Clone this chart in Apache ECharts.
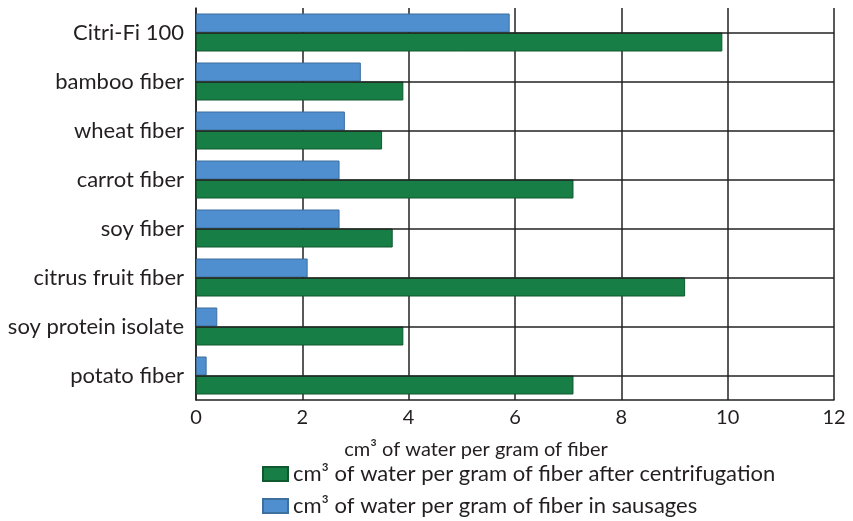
<!DOCTYPE html>
<html>
<head>
<meta charset="utf-8">
<script src="https://cdn.jsdelivr.net/npm/echarts@6/dist/echarts.min.js"></script>
<style>
  html, body { margin: 0; padding: 0; background: #fff; }
  #chart { width: 853px; height: 521px; }
</style>
</head>
<body>
<div id="chart"></div>
<script>
// categories top -> bottom
const fibers = ['Citri-Fi 100', 'bamboo fiber', 'wheat fiber', 'carrot fiber', 'soy fiber', 'citrus fruit fiber', 'soy protein isolate', 'potato fiber']
// cm3 of water per gram of fiber
const inSausages = [5.9, 3.1, 2.8, 2.7, 2.7, 2.1, 0.4, 0.2]
const afterCentrifugation = [9.9, 3.9, 3.5, 7.1, 3.7, 9.2, 3.9, 7.1]
const xTicks = [0, 2, 4, 6, 8, 10, 12]

const nameCentr = 'cm³ of water per gram of fiber after centrifugation'
const nameSaus = 'cm³ of water per gram of fiber in sausages'

const font = 'Lato'
const ink = '#231f20'
const gridLine = { color: '#222', width: 1.5 }

const legendBase = {
  orient: 'vertical',
  left: 257,
  icon: 'rect',
  itemWidth: 25,
  itemHeight: 14,
  textStyle: { fontFamily: font, fontSize: 22, color: ink }
}

const chart = echarts.init(document.getElementById('chart'))

chart.setOption({
  animation: false,
  textStyle: { fontFamily: font, color: ink },
  grid: { left: 196, right: 19, top: 8, bottom: 121, containLabel: false },
  legend: [
    Object.assign({}, legendBase, { top: 458, data: [nameCentr] }),
    Object.assign({}, legendBase, { top: 490, data: [nameSaus] })
  ],
  xAxis: {
    type: 'value',
    min: xTicks[0],
    max: xTicks[xTicks.length - 1],
    interval: 2,
    name: 'cm³ of water per gram of fiber',
    nameLocation: 'middle',
    nameGap: 40,
    nameTextStyle: { fontFamily: font, fontSize: 20, color: ink, padding: [0, 78, 0, 0] },
    axisLine: { show: true, lineStyle: gridLine },
    axisTick: { show: false },
    axisLabel: { fontSize: 20, color: ink, margin: 8 },
    splitLine: { show: true, lineStyle: gridLine }
  },
  yAxis: {
    type: 'category',
    data: fibers,
    inverse: true,
    axisLine: { show: true, lineStyle: gridLine },
    axisTick: { show: false },
    axisLabel: { fontSize: 22, color: ink, margin: 12 },
    splitLine: { show: false }
  },
  series: [
    {
      name: nameSaus,
      type: 'bar',
      data: inSausages,
      barWidth: 19,
      barGap: '0%',
      itemStyle: { color: '#4f8fcf', borderColor: '#3d6f9f', borderWidth: 1 }
    },
    {
      name: nameCentr,
      type: 'bar',
      data: afterCentrifugation,
      barWidth: 19,
      barGap: '0%',
      itemStyle: { color: '#177f45', borderColor: '#10592f', borderWidth: 1 }
    },
    {
      // horizontal rules through each category centre
      name: 'rules',
      type: 'line',
      data: [],
      z: 5,
      markLine: {
        silent: true,
        symbol: 'none',
        label: { show: false },
        lineStyle: { color: '#222', width: 1.5, type: 'solid' },
        data: fibers.map((f) => ({ yAxis: f }))
      }
    }
  ]
})
</script>
</body>
</html>
